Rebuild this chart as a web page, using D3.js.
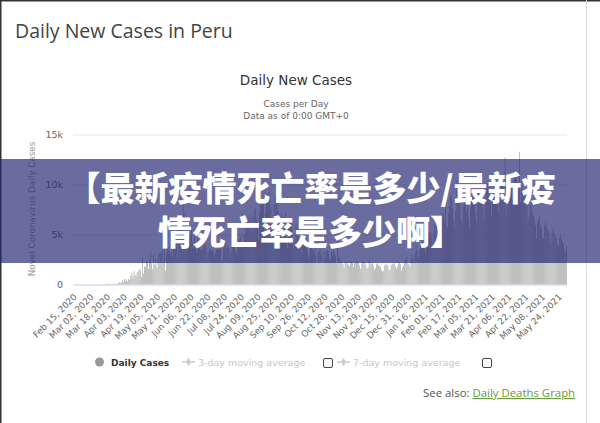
<!DOCTYPE html>
<html><head><meta charset="utf-8">
<script src="https://cdn.jsdelivr.net/npm/d3@7"></script>
<style>
html,body{margin:0;padding:0;background:#fff;}
svg{display:block;}
</style></head>
<body>
<svg id="chart" width="600" height="423"></svg>
<script>
// Daily new cases (thousands), one array per month
const feb2020 = [0,0,0,0,0,0,0,0,0,0,0,0,0,0,0]; // from Feb 15
const mar2020 = [0,0,0,0,0,0.001,0,0.005,0.002,0.002,0.002,0.006,0.005,0.016,0.028,0.015,0.031,0.011,0.089,0.029,0.071,0.032,0.032,0.079,0.064,0.107,0.055,0.036,0.181,0.219,0.098];
const apr2020 = [0.25,0.43,0.19,0.55,0.36,0.51,0.26,0.57,0.43,0.87,1.13,0.62,1.33,0.98,0.86,1.21,1.34,1.55,1.45,0.78,2.67,1.07,1.84,1.73,2.29,2.36,1.55,2.27,3.21,2.13];
const may2020 = [1.52,3.05,1.98,2.61,1.72,2.59,3.12,3.08,3.21,3.45,2.29,3.53,1.38,3.14,3.82,3.73,3.26,2.96,3.40,2.66,3.87,4.06,4.21,4.50,2.73,4.75,5.77,6.15,4.25,8.80,7.09];
const jun2020 = [4.20,5.56,5.00,4.28,4.66,4.90,5.86,4.21,3.58,5.47,4.04,3.21,5.00,4.35,3.93,3.43,3.52,3.46,3.94,4.16,3.71,2.71,3.28,3.45,3.63,3.42,3.53,3.23,2.67,3.21];
const jul2020 = [3.53,3.49,3.84,3.51,3.67,2.27,2.60,3.64,4.24,4.12,3.64,3.79,3.67,2.64,3.25,3.86,4.45,3.91,3.42,3.03,3.95,4.36,4.55,4.79,3.88,3.93,4.17,5.04,5.79,6.04,6.35];
const aug2020 = [6.79,5.65,7.02,5.25,6.79,7.44,7.68,6.72,5.93,4.56,7.16,9.44,8.57,8.19,8.37,5.44,7.08,8.43,9.18,8.29,9.26,7.71,5.97,6.06,7.99,8.83,8.16,8.15,7.31,4.25,5.72];
const sep2020 = [7.04,5.48,6.79,6.16,7.16,4.62,3.65,5.88,5.69,6.57,6.71,4.21,3.55,4.29,6.16,5.60,5.75,4.80,3.67,3.18,3.89,4.93,4.21,3.91,3.81,3.33,2.58,2.88,3.83,3.76];
const oct2020 = [3.54,3.22,3.54,2.92,2.14,3.27,3.26,3.45,3.02,2.79,2.15,3.29,2.65,3.32,3.46,3.11,2.59,2.43,3.42,2.89,3.42,3.14,2.84,2.13,5.42,2.74,2.81,2.39,2.25,2.05,1.72];
const nov2020 = [2.36,2.17,2.41,2.02,1.86,2.31,2.33,2.15,1.75,2.19,2.14,2.36,2.31,2.18,1.89,1.57,2.08,2.26,2.28,2.21,1.96,1.63,1.71,2.36,2.24,2.03,2.14,1.82,1.44,1.68];
const dec2020 = [2.02,2.16,1.93,1.84,1.73,1.45,1.29,1.38,1.92,2.05,1.98,1.87,1.42,1.56,1.95,2.11,2.07,2.14,1.85,1.58,1.82,2.12,2.26,2.01,1.35,1.71,1.90,2.34,2.46,2.70,2.29];
const jan2021 = [2.05,1.83,2.54,3.06,2.53,2.62,3.18,3.94,3.41,2.65,3.46,3.90,3.84,4.16,4.03,3.58,3.08,4.44,4.88,5.25,5.21,5.32,4.61,4.12,5.07,6.13,6.34,6.57,5.79,5.21,5.12];
const feb2021 = [6.61,7.02,7.19,6.37,8.47,5.80,5.66,7.18,7.87,8.96,8.71,7.69,6.53,5.49,7.34,10.43,9.27,8.13,7.93,6.45,6.12,7.78,8.88,8.61,7.27,8.01,6.71,5.55];
const mar2021 = [7.55,8.32,8.71,9.02,8.63,7.12,6.26,8.42,9.48,8.92,8.33,8.97,7.58,6.41,8.37,9.69,10.12,9.36,8.66,8.17,6.94,8.35,9.06,9.44,9.85,10.24,8.79,7.36,9.12,10.48,10.75];
const apr2021 = [9.86,8.41,12.72,7.02,8.98,10.12,9.47,10.46,9.93,8.52,9.66,10.84,11.17,10.56,9.24,9.81,13.27,8.24,10.02,9.11,8.87,9.45,8.47,8.12,6.43,6.84,7.96,8.35,7.37,6.85];
const may2021 = [6.31,5.92,4.62,6.17,6.48,6.81,5.93,5.57,4.73,4.58,5.92,6.27,5.78,5.46,5.28,4.62,3.88,5.14,5.61,5.18,4.86,4.72,4.03,3.84,4.71,5.02,4.52,4.27,4.11,3.46,3.18];
const jun2021 = [3.91];

const xTickLabels = ["Feb 15, 2020","Mar 02, 2020","Mar 18, 2020","Apr 03, 2020","Apr 19, 2020","May 05, 2020","May 21, 2020","Jun 06, 2020","Jun 22, 2020","Jul 08, 2020","Jul 24, 2020","Aug 09, 2020","Aug 25, 2020","Sep 10, 2020","Sep 26, 2020","Oct 12, 2020","Oct 28, 2020","Nov 13, 2020","Nov 29, 2020","Dec 15, 2020","Dec 31, 2020","Jan 16, 2021","Feb 01, 2021","Feb 17, 2021","Mar 05, 2021","Mar 21, 2021","Apr 06, 2021","Apr 22, 2021","May 08, 2021","May 24, 2021"];
const yTicks = [0,5,10,15];
const yTickLabels = ["0","5k","10k","15k"];
const legendLabels = ["Daily Cases", "3-day moving average", "7-day moving average"];
const bannerLines = ["【最新疫情死亡率是多少/最新疫", "情死亡率是多少啊】"];

const monthly = [feb2020, mar2020, apr2020, may2020, jun2020, jul2020, aug2020, sep2020, oct2020, nov2020, dec2020, jan2021, feb2021, mar2021, apr2021, may2021, jun2021];
const values = [].concat(...monthly);
const start = new Date(2020, 1, 15);
const fmt = d3.timeFormat("%b %d, %Y");
const data = values.map((v, i) => ({date: fmt(d3.timeDay.offset(start, i)), v}));

const svg = d3.select("#chart");
const W = 600, H = 423;
const plot = {left: 73, right: 567, top: 134.5, bottom: 284.5};

svg.append("rect").attr("x",0).attr("y",0).attr("width",W).attr("height",H).attr("fill","#fff");

const x = d3.scaleBand().domain(data.map(d => d.date)).range([plot.left, plot.right]).paddingInner(0.4).paddingOuter(0);
const y = d3.scaleLinear().domain([0, 15]).range([plot.bottom, plot.top]);

// titles
svg.append("text").attr("x",15).attr("y",38).attr("font-family","'Open Sans', 'Noto Sans', sans-serif").attr("font-size",19.5).attr("fill","#444").text("Daily New Cases in Peru");
svg.append("text").attr("x",296).attr("y",85).attr("text-anchor","middle").attr("font-family","'DejaVu Sans', sans-serif").attr("font-size",13.5).attr("fill","#333").text("Daily New Cases");
svg.append("text").attr("x",296).attr("y",107).attr("text-anchor","middle").attr("font-family","'DejaVu Sans', sans-serif").attr("font-size",9).attr("fill","#666").text("Cases per Day");
svg.append("text").attr("x",296).attr("y",118.5).attr("text-anchor","middle").attr("font-family","'DejaVu Sans', sans-serif").attr("font-size",9).attr("fill","#666").text("Data as of 0:00 GMT+0");

// gridlines + y axis
const yAxis = d3.axisLeft(y).tickValues(yTicks).tickFormat((d,i) => yTickLabels[i]).tickSize(-(plot.right - plot.left)).tickPadding(10);
const gy = svg.append("g").attr("transform", `translate(${plot.left},0)`).call(yAxis);
gy.select(".domain").remove();
gy.selectAll(".tick line").attr("stroke","#e6e6e6");
gy.selectAll(".tick text").attr("font-family","'DejaVu Sans', sans-serif").attr("font-size",9.5).attr("fill","#666");

svg.append("text").attr("transform","translate(35,209) rotate(-90)").attr("text-anchor","middle")
  .attr("font-family","'DejaVu Sans', sans-serif").attr("font-size",8.8).attr("fill","#999").text("Novel Coronavirus Daily Cases");

// bars
svg.append("g").selectAll("rect").data(data).join("rect")
  .attr("x", d => x(d.date)).attr("width", x.bandwidth())
  .attr("y", d => y(d.v)).attr("height", d => y(0) - y(d.v))
  .attr("fill", "#9a9a9a");

// x axis
const xAxis = d3.axisBottom(x).tickValues(xTickLabels).tickSize(0).tickPadding(0);
const gx = svg.append("g").attr("transform", `translate(0,${plot.bottom})`).call(xAxis);
gx.select(".domain").attr("stroke","#ccd6eb");
gx.selectAll(".tick text")
  .attr("font-family","'DejaVu Sans', sans-serif").attr("font-size",8.8).attr("fill","#666")
  .attr("text-anchor","end").attr("dy",null).attr("y",0)
  .attr("transform","translate(4,13) rotate(-45)");

// legend
const lg = svg.append("g").attr("font-family","'DejaVu Sans', sans-serif").attr("font-size",9.5);
lg.append("circle").attr("cx",99.5).attr("cy",362).attr("r",4.5).attr("fill","#999");
lg.append("text").attr("x",111).attr("y",365.5).attr("font-size",9).attr("font-weight","bold").attr("fill","#333").text(legendLabels[0]);
const legendItems = [{x0:182, tx:198, label:legendLabels[1], box:323}, {x0:337, tx:353, label:legendLabels[2], box:482}];
legendItems.forEach(it => {
  lg.append("line").attr("x1",it.x0).attr("x2",it.x0+13).attr("y1",362).attr("y2",362).attr("stroke","#ccc").attr("stroke-width",1.5);
  lg.append("path").attr("d", d3.symbol(d3.symbolDiamond, 22)()).attr("transform",`translate(${it.x0+6.5},362)`).attr("fill","#ccc");
  lg.append("text").attr("x",it.tx).attr("y",365.5).attr("fill","#c8c8c8").text(it.label);
  lg.append("rect").attr("x",it.box+0.5).attr("y",358.5).attr("width",9).attr("height",9).attr("rx",1.5).attr("fill","#fff").attr("stroke","#444");
});

// see also
const sa = svg.append("text").attr("x",423).attr("y",397).attr("font-family","'Open Sans', sans-serif").attr("font-size",11.4);
sa.append("tspan").attr("fill","#555").text("See also: ");
sa.append("tspan").attr("fill","#6a9a3a").attr("text-decoration","underline").text("Daily Deaths Graph");

// borders
svg.append("line").attr("x1",0).attr("x2",W).attr("y1",0.5).attr("y2",0.5).attr("stroke","#333").attr("stroke-width",2);
svg.append("line").attr("x1",0.5).attr("x2",0.5).attr("y1",0).attr("y2",H).attr("stroke","#333").attr("stroke-width",2);
svg.append("line").attr("x1",586.5).attr("x2",586.5).attr("y1",0).attr("y2",H).attr("stroke","#ddd").attr("stroke-width",1);

// banner overlay
svg.append("rect").attr("x",0).attr("y",159).attr("width",W).attr("height",104).attr("fill","rgba(35,38,115,0.68)");
const bt = svg.append("text").attr("text-anchor","middle")
  .attr("font-family","'Noto Sans CJK SC', sans-serif").attr("font-weight",900).attr("font-size",34).attr("fill","#fff");
bt.append("tspan").attr("x",311).attr("y",201).text(bannerLines[0]);
bt.append("tspan").attr("x",311).attr("y",245).text(bannerLines[1]);
</script>
</body></html>
